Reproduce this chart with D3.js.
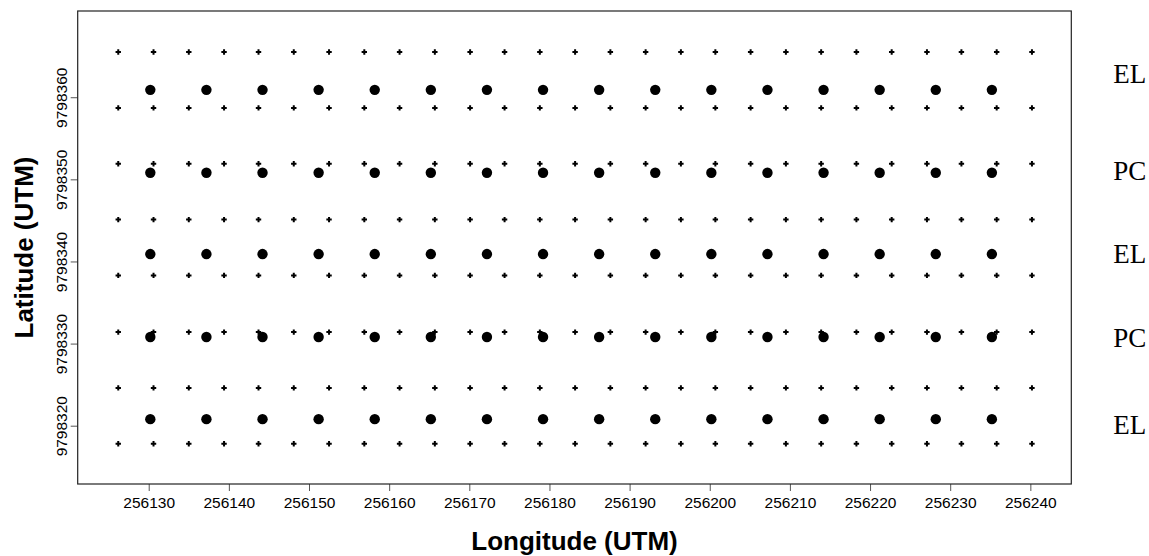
<!DOCTYPE html>
<html>
<head>
<meta charset="utf-8">
<script src="https://cdn.jsdelivr.net/npm/d3@7"></script>
<style>
  body { margin: 0; background: #fff; }
  svg { display: block; }
</style>
</head>
<body>
<div id="chart"></div>
<script>
// Grid of sampling points (small crosses)
const plusLon = [256126.2, 256130.6, 256135.0, 256139.4, 256143.7, 256148.1, 256152.5,
  256156.9, 256161.3, 256165.7, 256170.1, 256174.4, 256178.8, 256183.2, 256187.6,
  256192.0, 256196.4, 256200.7, 256205.1, 256209.5, 256213.9, 256218.3, 256222.7,
  256227.1, 256231.4, 256235.8, 256240.2];
const plusLat = [9798317.8, 9798324.6, 9798331.4, 9798338.3, 9798345.1, 9798351.9,
  9798358.7, 9798365.5];

// Plant positions (filled circles)
const circleLon = [256130.2, 256137.2, 256144.2, 256151.2, 256158.2, 256165.2, 256172.2,
  256179.2, 256186.2, 256193.2, 256200.2, 256207.2, 256214.2, 256221.2, 256228.2, 256235.2];
const circleLat = [9798320.8, 9798330.8, 9798340.9, 9798350.8, 9798360.9];

// Row labels on the right
const rowLabels = ["EL", "PC", "EL", "PC", "EL"];
const rowLabelLat = [9798362.9, 9798351.1, 9798341.0, 9798330.7, 9798320.1];

// Tick values
const xTicks = [256130, 256140, 256150, 256160, 256170, 256180, 256190, 256200, 256210, 256220, 256230, 256240];
const yTicks = [9798320, 9798330, 9798340, 9798350, 9798360];

// Set chart dimensions and margins
const margin = { top: 11, right: 77.7, bottom: 72, left: 77.7 };
const width = 1149 - margin.left - margin.right;
const height = 556 - margin.top - margin.bottom;

const svg = d3.select("#chart")
    .append("svg")
    .attr("width", 1149)
    .attr("height", 556)
    .append("g")
    .attr("transform", `translate(${margin.left},${margin.top})`);

// Scales
const x = d3.scaleLinear()
    .domain([256121.14, 256245.11])
    .range([0, width]);

const y = d3.scaleLinear()
    .domain([9798312.9, 9798370.5])
    .range([height, 0]);

// X axis
const xAxis = svg.append("g")
    .attr("transform", `translate(0,${height})`)
    .call(d3.axisBottom(x).tickValues(xTicks).tickFormat(d3.format("d")).tickSize(7).tickPadding(6));
xAxis.select(".domain").remove();
xAxis.selectAll("line").attr("stroke", "#555");
xAxis.selectAll("text")
    .attr("font-family", "Liberation Sans, Arial, sans-serif")
    .attr("font-size", "15.5px")
    .attr("fill", "#000");

// Y axis (labels parallel to the axis)
const yAxis = svg.append("g")
    .call(d3.axisLeft(y).tickValues(yTicks).tickFormat(d3.format("d")).tickSize(7));
yAxis.select(".domain").remove();
yAxis.selectAll("line").attr("stroke", "#555");
yAxis.selectAll("text")
    .attr("font-family", "Liberation Sans, Arial, sans-serif")
    .attr("font-size", "15.5px")
    .attr("fill", "#000")
    .attr("text-anchor", "middle")
    .attr("dy", null)
    .attr("x", null)
    .attr("transform", "translate(-10.5,0) rotate(-90)");

// Plot box
svg.append("rect")
    .attr("x", 0)
    .attr("y", 0)
    .attr("width", width)
    .attr("height", height)
    .attr("fill", "none")
    .attr("stroke", "#222")
    .attr("stroke-width", 1.2);

// Crosses
const grid = plusLat.flatMap(lat => plusLon.map(lon => ({ lon, lat })));
svg.selectAll(".plus")
    .data(grid)
    .enter()
    .append("path")
    .attr("class", "plus")
    .attr("transform", d => `translate(${x(d.lon)},${y(d.lat)})`)
    .attr("d", "M-2.7,0H2.7M0,-2.7V2.7")
    .attr("stroke", "#000")
    .attr("stroke-width", 2);

// Circles
const plants = circleLat.flatMap(lat => circleLon.map(lon => ({ lon, lat })));
svg.selectAll(".plant")
    .data(plants)
    .enter()
    .append("circle")
    .attr("class", "plant")
    .attr("cx", d => x(d.lon))
    .attr("cy", d => y(d.lat))
    .attr("r", 5.2)
    .attr("fill", "#000");

// Row labels
svg.selectAll(".row-label")
    .data(rowLabels)
    .enter()
    .append("text")
    .attr("class", "row-label")
    .attr("x", width + 42)
    .attr("y", (d, i) => y(rowLabelLat[i]))
    .attr("dy", "0.35em")
    .attr("font-family", "Liberation Serif, Times New Roman, serif")
    .attr("font-size", "27px")
    .text(d => d);

// Axis titles
svg.append("text")
    .attr("x", width / 2)
    .attr("y", height + 66)
    .attr("text-anchor", "middle")
    .attr("font-family", "Liberation Sans, Arial, sans-serif")
    .attr("font-weight", "bold")
    .attr("font-size", "26px")
    .text("Longitude (UTM)");

svg.append("text")
    .attr("transform", "rotate(-90)")
    .attr("x", -height / 2)
    .attr("y", -45)
    .attr("text-anchor", "middle")
    .attr("font-family", "Liberation Sans, Arial, sans-serif")
    .attr("font-weight", "bold")
    .attr("font-size", "26px")
    .text("Latitude (UTM)");
</script>
</body>
</html>
